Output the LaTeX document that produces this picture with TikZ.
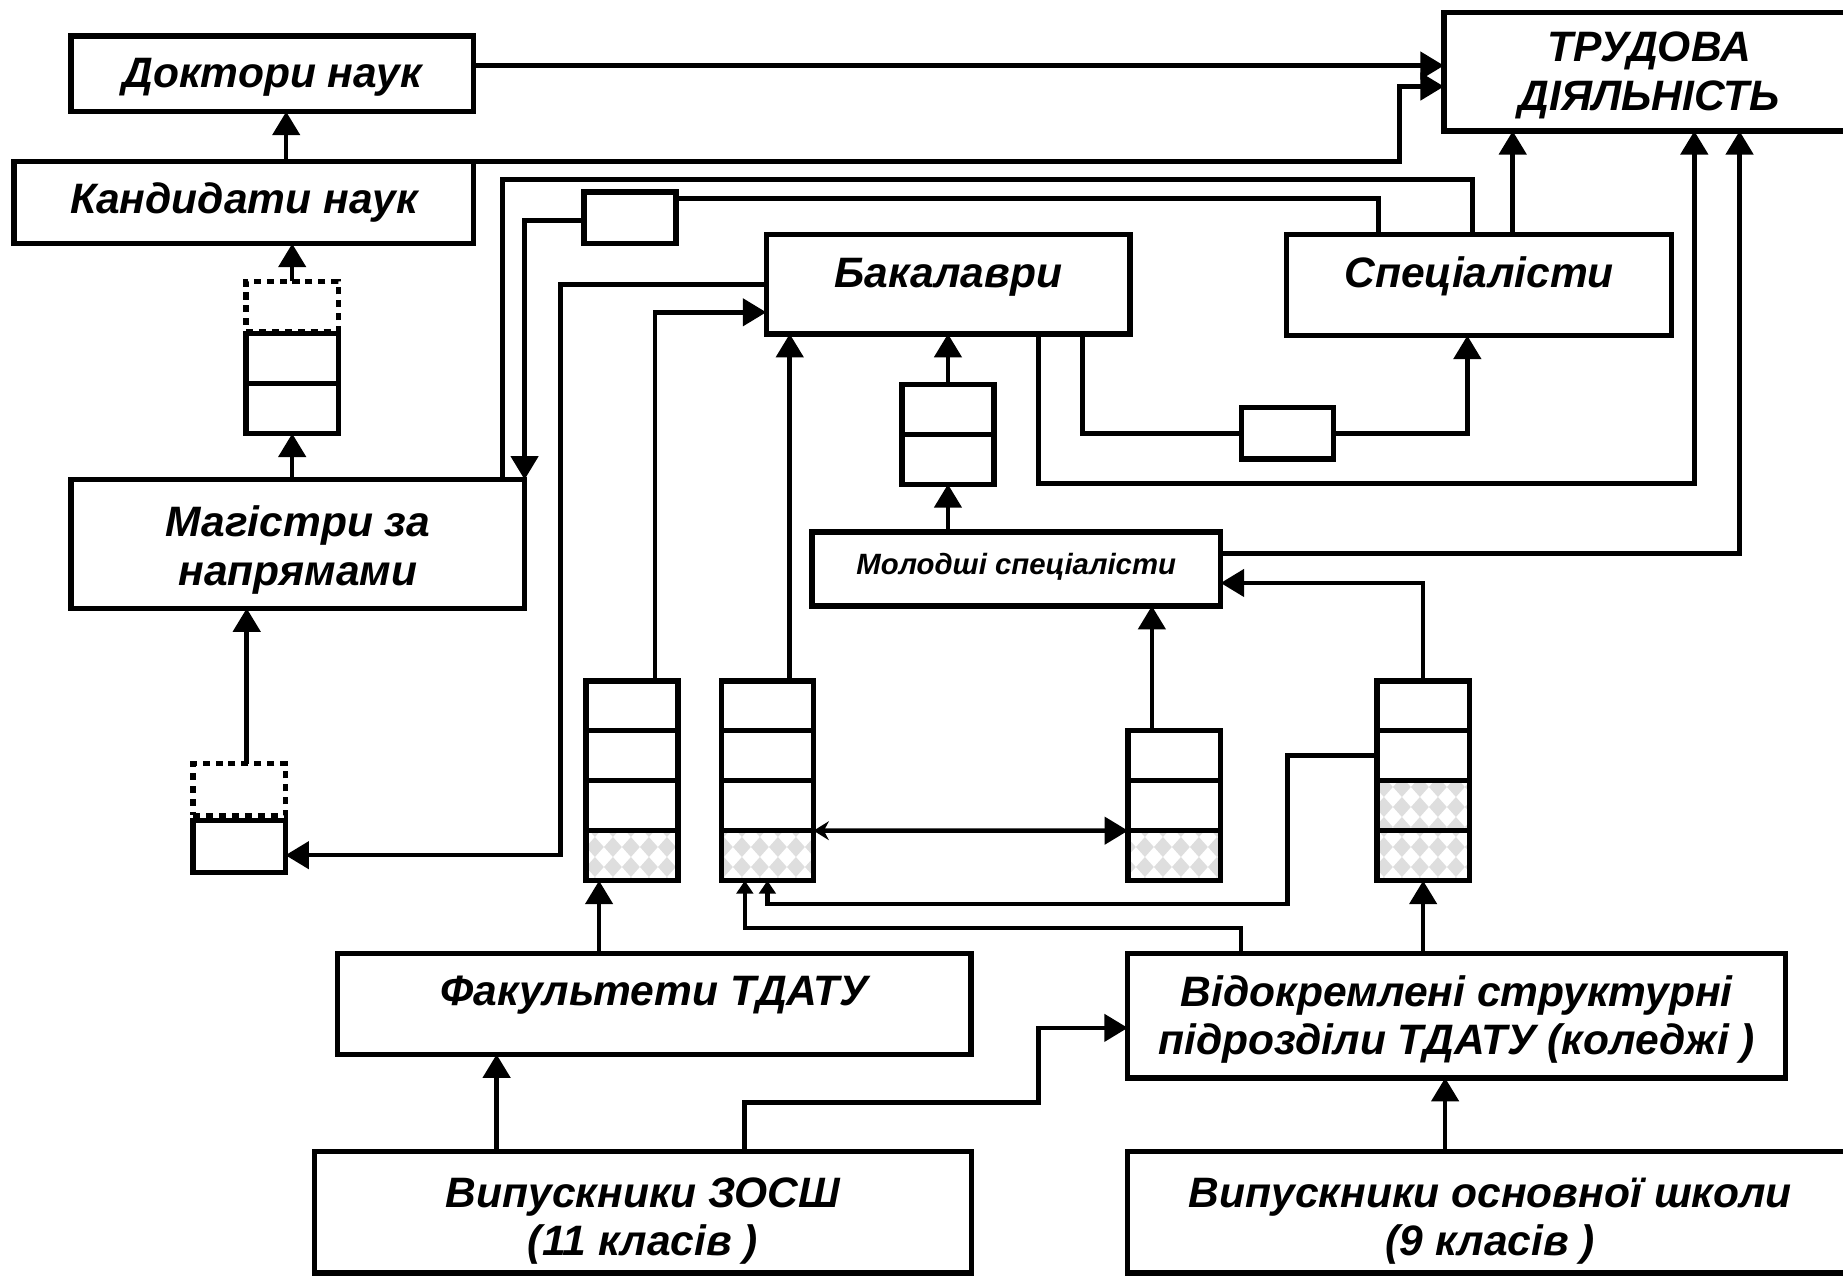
\documentclass[tikz,border=0pt]{standalone}
\usepackage{fontspec}
\setmainfont{Liberation Sans}
\usepackage{tikz}
\usetikzlibrary{arrows.meta, calc, patterns, positioning}
\usepackage{xcolor}
\definecolor{Ink}{gray}{0}
\definecolor{Argyle}{gray}{0.87}
\pgfdeclarepatternformonly{argyle}{\pgfpointorigin}{\pgfqpoint{4.44pt}{4.84pt}}%
  {\pgfqpoint{4.44pt}{4.84pt}}{%
  \pgfpathmoveto{\pgfqpoint{2.22pt}{0pt}}%
  \pgfpathlineto{\pgfqpoint{4.44pt}{2.42pt}}%
  \pgfpathlineto{\pgfqpoint{2.22pt}{4.84pt}}%
  \pgfpathlineto{\pgfqpoint{0pt}{2.42pt}}%
  \pgfpathclose%
  \pgfusepath{fill}%
}
\tikzset{%
  main_block/.style={%
    rectangle,%
    draw=Ink,%
    line width=1.3pt,%
    inner sep=0pt,%
    outer sep=0pt,%
  },
  block_text/.style={%
    inner sep=0pt,%
    align=center,%
    font={\fontsize{10.3}{11.8}\selectfont\bfseries\itshape},%
  },
  small_text/.style={%
    inner sep=0pt,%
    font={\fontsize{7.1}{9}\selectfont\bfseries\itshape},%
  },
  stack_cell/.style={%
    rectangle,%
    draw=Ink,%
    line width=1.3pt,%
    minimum width=7.85mm,%
    minimum height=4.25mm,%
    inner sep=0pt,%
    outer sep=0pt,%
  },
  dotted_cell/.style={%
    stack_cell,%
    dash pattern=on 0.6mm off 0.5mm,%
  },
  hatched_cell/.style={%
    stack_cell,%
    pattern=argyle,%
    pattern color=Argyle,%
  },
  link_path/.style={%
    draw=Ink,%
    line width=1.1pt,%
  },
  arrow/.style={-{Triangle[length=2mm, width=2.3mm]}},
  small_arrow/.style={-{Triangle[length=1.1mm, width=1.4mm]}},
}

\begin{document}
\begin{tikzpicture}[x=0.1mm, y=-0.1mm]
    \useasboundingbox (0,0) rectangle (1568,1085.6);
    \clip (0,0) rectangle (1568,1085.6);

    % main blocks
    \node [main_block, minimum width=34.25mm, minimum height=6.44mm] (Doctors) at (231.7,62.8) {};
    \node [main_block, minimum width=39.1mm, minimum height=6.98mm] (Candidates) at (207.5,172.4) {};
    \node [main_block, minimum width=34.9mm, minimum height=10.1mm] (Labour) at (1403,61) {};
    \node [main_block, minimum width=38.58mm, minimum height=10.95mm] (Masters) at (253.4,462.8) {};
    \node [main_block, minimum width=30.95mm, minimum height=8.43mm] (Bachelors) at (806.7,241.9) {};
    \node [main_block, minimum width=32.78mm, minimum height=8.58mm] (Specialists) at (1258.4,242.6) {};
    \node [main_block, minimum width=34.78mm, minimum height=6.3mm] (Junior) at (864.6,484) {};
    \node [main_block, minimum width=53.9mm, minimum height=8.57mm] (Faculties) at (556.5,854.2) {};
    \node [main_block, minimum width=55.96mm, minimum height=10.57mm] (Colleges) at (1239.3,864.2) {};
    \node [main_block, minimum width=55.9mm, minimum height=10.32mm] (School11) at (547,1031.4) {};
    \node [main_block, minimum width=61.7mm, minimum height=10.32mm] (School9) at (1268,1031.4) {};

    % block texts
    \node [block_text, anchor=base] (DoctorsText) at ([yshift=-1.19mm]Doctors.center) {Доктори наук};
    \node [block_text, anchor=base] (CandidatesText) at ([yshift=-0.89mm]Candidates.center) {Кандидати наук};
    \node [block_text] (LabourText) at ([yshift=-0.3mm]Labour.center) {ТРУДОВА\\ДІЯЛЬНІСТЬ};
    \node [block_text] (MastersText) at ([yshift=-0.51mm]Masters.center) {Магістри за\\напрямами};
    \node [block_text, anchor=base] (BachelorsText) at ([yshift=-0.31mm]Bachelors.center) {Бакалаври};
    \node [block_text, anchor=base] (SpecialistsText) at ([yshift=-0.24mm]Specialists.center) {Спеціалісти};
    \node [small_text, anchor=base] (JuniorText) at ([yshift=-0.52mm]Junior.center) {Молодші спеціалісти};
    \node [block_text, anchor=base] (FacultiesText) at ([yshift=-0.12mm]Faculties.center) {Факультети ТДАТУ};
    \node [block_text] (CollegesText) at ([yshift=-0.32mm]Colleges.center) {Відокремлені структурні\\підрозділи ТДАТУ (коледжі )};
    \node [block_text] (School11Text) at ([yshift=-0.75mm]School11.center) {Випускники ЗОСШ\\(11 класів )};
    \node [block_text] (School9Text) at ([yshift=-0.75mm]School9.center) {Випускники основної школи\\(9 класів )};

    % single boxes
    \node [stack_cell, minimum height=4.4mm] (BoxA) at (536,185.3) {};
    \node [stack_cell, minimum height=4.4mm] (BoxB) at (1095.5,368.6) {};
    \node [stack_cell, minimum height=4.4mm] (BoxC) at (203.6,720.3) {};
    \node [dotted_cell, minimum height=4.4mm, above=0.45mm of BoxC] (BoxC0) {};

    % stacks
    \node [stack_cell] (MagCell2) at (248.6,347.6) {};
    \node [stack_cell, above=0mm of MagCell2] (MagCell1) {};
    \node [dotted_cell, above=0.2mm of MagCell1] (MagCell0) {};

    \node [stack_cell] (BakCell1) at (806.5,348.2) {};
    \node [stack_cell, below=0mm of BakCell1] (BakCell2) {};

    \node [stack_cell] (S1a) at (537.7,600.5) {};
    \node [stack_cell, below=0mm of S1a] (S1b) {};
    \node [stack_cell, below=0mm of S1b] (S1c) {};
    \node [hatched_cell, below=0mm of S1c] (S1d) {};

    \node [stack_cell] (S2a) at (652.9,600.5) {};
    \node [stack_cell, below=0mm of S2a] (S2b) {};
    \node [stack_cell, below=0mm of S2b] (S2c) {};
    \node [hatched_cell, below=0mm of S2c] (S2d) {};

    \node [stack_cell] (S3a) at (999,643) {};
    \node [stack_cell, below=0mm of S3a] (S3b) {};
    \node [hatched_cell, below=0mm of S3b] (S3c) {};

    \node [stack_cell] (S4a) at (1210.8,600.5) {};
    \node [stack_cell, below=0mm of S4a] (S4b) {};
    \node [hatched_cell, below=0mm of S4b] (S4c) {};
    \node [hatched_cell, below=0mm of S4c] (S4d) {};

    % upper links
    \draw [arrow, link_path]
      ([yshift=0.7mm]Doctors.east)
      --
      ([yshift=0.7mm]Doctors.east -| Labour.west);
    \draw [arrow, link_path]
      (Candidates.north east)
      --
      ++(787.8,0)
      |-
      ([yshift=-1.26mm]Labour.west);
    \draw [arrow, link_path]
      ([xshift=3.6mm]Candidates.north)
      --
      ([xshift=3.6mm]Candidates.north |- Doctors.south);
    \draw [arrow, link_path]
      (MagCell2.south |- Masters.north)
      --
      (MagCell2.south);
    \draw [arrow, link_path]
      (MagCell0.north)
      --
      (MagCell0.north |- Candidates.south);
    \draw [link_path]
      ([xshift=-1.9mm]Masters.north east)
      |-
      ([xshift=-0.54mm, yshift=4.69mm]Specialists.north)
      --
      ([xshift=-0.54mm]Specialists.north);
    \draw [link_path]
      ([xshift=-8.54mm]Specialists.north)
      |-
      ([yshift=1.63mm]BoxA.east);
    \draw [arrow, link_path]
      ([yshift=-0.22mm]BoxA.west)
      -|
      (Masters.north east);
    \draw [arrow, link_path]
      (Bachelors.west)
      --
      ++(-175,0)
      |-
      ([yshift=-0.73mm]BoxC.east);
    \draw [arrow, link_path]
      ([xshift=0.63mm]BoxC0.north)
      --
      ([xshift=0.63mm]BoxC0.north |- Masters.south);

    % bachelors and specialists
    \draw [arrow, link_path]
      (BakCell1.north)
      --
      (BakCell1.north |- Bachelors.south);
    \draw [arrow, link_path]
      (BakCell2.south |- Junior.north)
      --
      (BakCell2.south);
    \draw [link_path]
      ([xshift=-4.05mm]Bachelors.south east)
      |-
      (BoxB.west);
    \draw [arrow, link_path]
      (BoxB.east)
      -|
      ([xshift=-1mm]Specialists.south);
    \draw [arrow, link_path]
      ([xshift=-7.8mm]Bachelors.south east)
      --
      ++(0,127.5)
      -|
      ([xshift=3.85mm]Labour.south);
    \draw [arrow, link_path]
      ([xshift=2.86mm]Specialists.north)
      --
      ([xshift=2.86mm]Specialists.north |- Labour.south);
    \draw [arrow, link_path]
      ([yshift=1.32mm]Junior.east)
      -|
      ([xshift=7.7mm]Labour.south);

    % stacks to blocks
    \draw [arrow, link_path]
      ([xshift=1.95mm]S1a.north)
      |-
      ([yshift=-2.38mm]Bachelors.west);
    \draw [arrow, link_path]
      ([xshift=1.9mm]S2a.north)
      --
      ([xshift=1.9mm]S2a.north |- Bachelors.south);
    \draw [arrow, link_path]
      ([xshift=-1.9mm]S3a.north)
      --
      ([xshift=-1.9mm]S3a.north |- Junior.south);
    \draw [arrow, link_path]
      (S4a.north)
      |-
      ([yshift=-1.2mm]Junior.east);
    \draw [link_path, {Stealth[length=1.3mm, width=1.6mm]}-{Triangle[length=2mm, width=2.3mm]}]
      (S2c.south east)
      --
      (S3b.south west);
    \draw [small_arrow, link_path]
      (S4b.west)
      --
      ++(-76,0)
      |-
      ([yshift=-2mm]S2d.south)
      --
      (S2d.south);
    \draw [small_arrow, link_path]
      ([xshift=9.64mm]Colleges.north west)
      |-
      ([xshift=-1.92mm, yshift=-4.01mm]S2d.south)
      --
      ([xshift=-1.92mm]S2d.south);

    % lower links
    \draw [arrow, link_path]
      ([xshift=-2.8mm]S1d.south |- Faculties.north)
      --
      ([xshift=-2.8mm]S1d.south);
    \draw [arrow, link_path]
      (S4d.south |- Colleges.north)
      --
      (S4d.south);
    \draw [arrow, link_path]
      ([xshift=15.5mm]School11.north west)
      --
      ([xshift=15.5mm]School11.north west |- Faculties.south);
    \draw [arrow, link_path]
      ([xshift=36.6mm]School11.north west)
      |-
      ([xshift=-7.6mm, yshift=-7.38mm]Colleges.west)
      |-
      ([yshift=-1.03mm]Colleges.west);
    \draw [arrow, link_path]
      ([xshift=27mm]School9.north west)
      --
      ([xshift=27mm]School9.north west |- Colleges.south);
  \end{tikzpicture}
\end{document}
